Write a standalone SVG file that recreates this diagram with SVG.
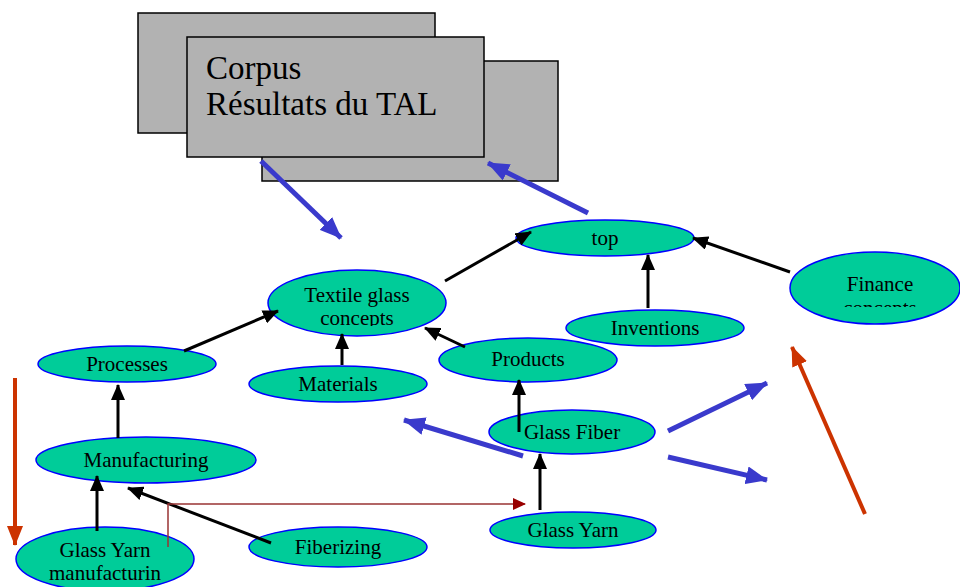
<svg xmlns="http://www.w3.org/2000/svg" width="960" height="587" viewBox="0 0 960 587">
<style>
.box{fill:#b2b2b2;stroke:#000;stroke-width:1.5}
.node{fill:#00cc99;stroke:#0000ff;stroke-width:1.5}
.lbl{font-family:"Liberation Serif","Times New Roman",serif;font-size:21px;fill:#000;text-anchor:middle}
.big{font-family:"Liberation Serif","Times New Roman",serif;font-size:33px;fill:#000}
.blk{stroke:#000;stroke-width:3;fill:none;marker-end:url(#ab)}
.blu{stroke:#3a3acc;stroke-width:5;fill:none;marker-end:url(#au)}
.red{stroke:#cc3300;stroke-width:4;fill:none;marker-end:url(#ar)}
.dr{stroke:#993333;stroke-width:1.5;fill:none;marker-end:url(#ad)}
</style>
<defs>
<marker id="ab" markerUnits="userSpaceOnUse" markerWidth="16" markerHeight="14" refX="15" refY="7" orient="auto"><path d="M0,0L16,7L0,14z" fill="#000"/></marker>
<marker id="au" markerUnits="userSpaceOnUse" markerWidth="22" markerHeight="18" refX="21" refY="9" orient="auto"><path d="M0,0L22,9L0,18z" fill="#3a3acc"/></marker>
<marker id="ar" markerUnits="userSpaceOnUse" markerWidth="20" markerHeight="16" refX="19" refY="8" orient="auto"><path d="M0,0L20,8L0,16z" fill="#cc3300"/></marker>
<marker id="ad" markerUnits="userSpaceOnUse" markerWidth="13" markerHeight="12" refX="12" refY="6" orient="auto"><path d="M0,0L13,6L0,12z" fill="#990000"/></marker>
<clipPath id="c1"><rect x="260" y="270" width="200" height="56"/></clipPath>
<clipPath id="c2"><rect x="790" y="250" width="170" height="57"/></clipPath>
</defs>
<g id="corpus">
<rect class="box" x="138" y="13" width="297" height="120"/>
<rect class="box" x="262" y="61" width="296" height="120"/>
<rect class="box" x="187" y="37" width="297" height="120"/>
<text class="big" x="206" y="79">Corpus</text>
<text class="big" x="206" y="115">Résultats du TAL</text>
</g>
<g id="n-top"><ellipse class="node" cx="605" cy="238" rx="89" ry="18"/><text class="lbl" x="605" y="245">top</text></g>
<g id="n-textile"><ellipse class="node" cx="357" cy="303" rx="89" ry="33"/><g clip-path="url(#c1)"><text class="lbl" x="357" y="302">Textile glass</text><text class="lbl" x="357" y="325">concepts</text></g></g>
<g id="n-inventions"><ellipse class="node" cx="655" cy="328" rx="89" ry="18"/><text class="lbl" x="655" y="335">Inventions</text></g>
<g id="n-finance"><ellipse class="node" cx="875" cy="288" rx="85" ry="36"/><g clip-path="url(#c2)"><text class="lbl" x="880" y="291">Finance</text><text class="lbl" x="880" y="315">concepts</text></g></g>
<g id="n-processes"><ellipse class="node" cx="127" cy="364" rx="89" ry="18"/><text class="lbl" x="127" y="371">Processes</text></g>
<g id="n-materials"><ellipse class="node" cx="338" cy="384" rx="89" ry="18"/><text class="lbl" x="338" y="391">Materials</text></g>
<g id="n-products"><ellipse class="node" cx="528" cy="360" rx="89" ry="22"/><text class="lbl" x="528" y="366">Products</text></g>
<g id="n-glassfiber"><ellipse class="node" cx="572" cy="432" rx="83" ry="22"/><text class="lbl" x="572" y="439">Glass Fiber</text></g>
<g id="n-manufacturing"><ellipse class="node" cx="146" cy="460" rx="110" ry="23"/><text class="lbl" x="146" y="467">Manufacturing</text></g>
<g id="n-glassyarn"><ellipse class="node" cx="573" cy="530" rx="83" ry="18"/><text class="lbl" x="573" y="537">Glass Yarn</text></g>
<g id="n-fiberizing"><ellipse class="node" cx="338" cy="547" rx="89" ry="20"/><text class="lbl" x="338" y="554">Fiberizing</text></g>
<g id="n-gym"><ellipse class="node" cx="105" cy="559" rx="89" ry="32"/><text class="lbl" x="105" y="557">Glass Yarn</text><text class="lbl" x="105" y="580">manufacturin</text></g>
<g id="connectors">
<line class="blk" x1="445" y1="281" x2="531" y2="232"/>
<line class="blk" x1="648" y1="308" x2="648" y2="255"/>
<line class="blk" x1="790" y1="272" x2="693" y2="238"/>
<line class="blk" x1="184" y1="351" x2="278" y2="311"/>
<line class="blk" x1="342" y1="365" x2="342" y2="334"/>
<line class="blk" x1="465" y1="347" x2="425" y2="328"/>
<line class="blk" x1="519" y1="432" x2="519" y2="380"/>
<line class="blk" x1="540" y1="510" x2="540" y2="454"/>
<line class="blk" x1="118" y1="438" x2="118" y2="385"/>
<line class="blk" x1="97" y1="531" x2="97" y2="476"/>
<line class="blk" x1="271" y1="543" x2="128" y2="488"/>
<line class="blu" x1="261" y1="161" x2="341" y2="238"/>
<line class="blu" x1="588" y1="213" x2="488" y2="163"/>
<line class="blu" x1="523" y1="456" x2="404" y2="420"/>
<line class="blu" x1="668" y1="431" x2="767" y2="383"/>
<line class="blu" x1="668" y1="457" x2="767" y2="480"/>
<line class="red" x1="15" y1="378" x2="15" y2="545"/>
<line class="red" x1="865" y1="514" x2="792" y2="347"/>
<polyline class="dr" points="168,547 168,504 525,504"/>
</g>
</svg>
